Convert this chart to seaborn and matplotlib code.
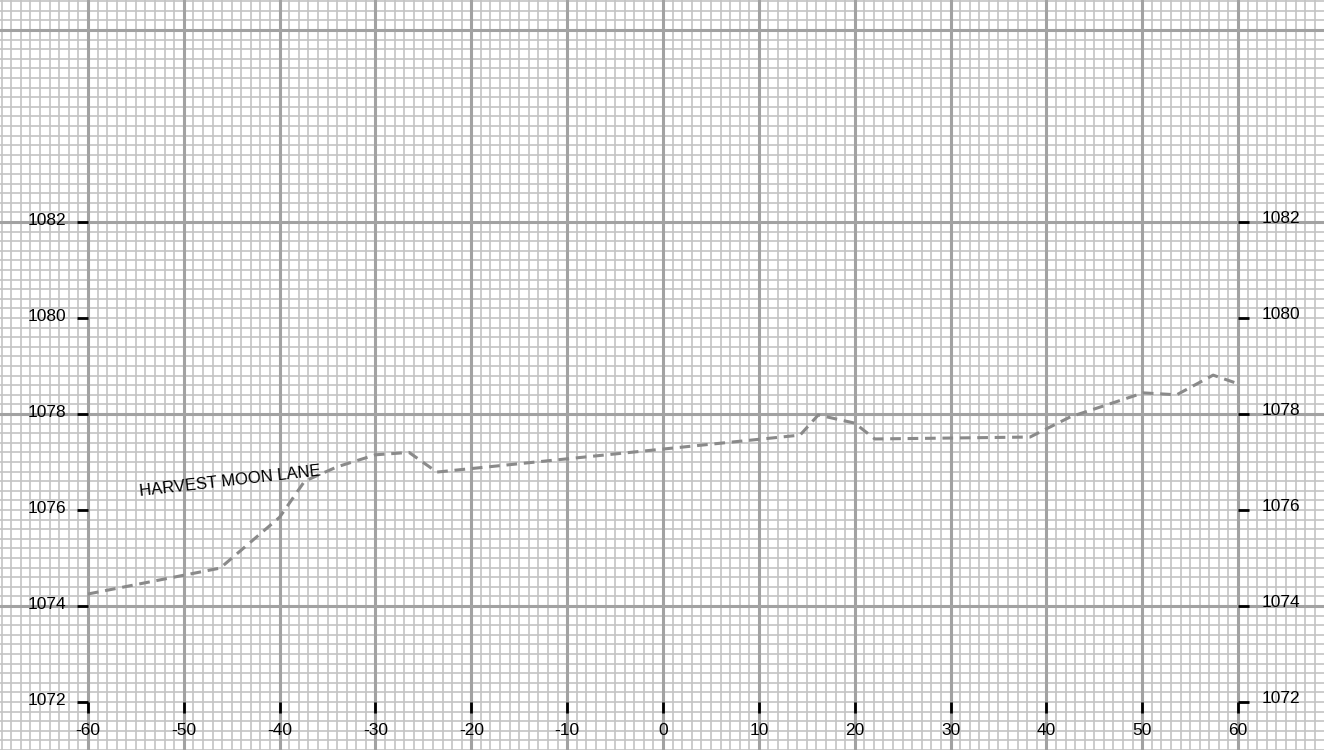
import numpy as np
import pandas as pd
import matplotlib.pyplot as plt
import matplotlib.transforms as mtransforms
import seaborn as sns

# profile of the existing ground along Harvest Moon Lane (offset vs elevation)
offset = [-60, -46.2, -40, -37.4, -34, -30, -26.5, -23.6, 14.3, 16.2, 20,
          22.1, 38.3, 42.5, 50.1, 53.6, 57.4, 60]
elevation = [1074.25, 1074.79, 1075.85, 1076.6, 1076.9, 1077.15, 1077.2,
             1076.79, 1077.56, 1077.98, 1077.81, 1077.48, 1077.52, 1077.94,
             1078.44, 1078.40, 1078.81, 1078.63]

x_ticks = [-60, -50, -40, -30, -20, -10, 0, 10, 20, 30, 40, 50, 60]
y_ticks = [1072, 1074, 1076, 1078, 1080, 1082]
road_name = "HARVEST MOON LANE"

sns.set_theme(style="white")
plt.rcParams["font.family"] = ["Liberation Sans", "DejaVu Sans"]

fig = plt.figure(figsize=(13.24, 7.5), dpi=100)
ax = fig.add_axes([0, 0, 1, 1])
ax.set_xlim(-69.18, 68.97)
ax.set_ylim(1071.0, 1086.625)
ax.set_axis_off()

# grid paper: light minor lines, darker major lines
minor_col, major_col = "#c4c4c4", "#a2a2a2"
for xv in np.arange(-69, 69):
    major = xv % 10 == 0
    ax.axvline(xv, color=major_col if major else minor_col,
               lw=2.2 if major else 1.2, zorder=2 if major else 1)
for i, yv in enumerate(np.arange(1071.0, 1086.7, 0.2)):
    major = abs((yv - 1074) % 4) < 1e-6 or abs((yv - 1074) % 4 - 4) < 1e-6
    ax.axhline(yv, color=major_col if major else minor_col,
               lw=2.2 if major else 1.2, zorder=2 if major else 1)

df = pd.DataFrame({"offset": offset, "elevation": elevation})
sns.lineplot(data=df, x="offset", y="elevation", sort=False, ax=ax,
             color="#8a8a8a", lw=2.2, linestyle=(0, (3.5, 2.2)), zorder=5)

# tick marks and labels, drawn in the sheet itself
px = mtransforms.offset_copy
xmin, xmax = x_ticks[0], x_ticks[-1]
ybase = y_ticks[0]
tick_len = 11 / 9.583  # ~11 px in x units
for yv in y_ticks:
    ax.plot([xmin - tick_len, xmin], [yv, yv], color="black", lw=2, zorder=6,
            solid_capstyle="butt")
    ax.plot([xmax, xmax + tick_len], [yv, yv], color="black", lw=2, zorder=6,
            solid_capstyle="butt")
    ax.text(xmin - 2.3, yv, str(yv), ha="right", va="baseline", fontsize=12.5,
            color="black", transform=px(ax.transData, fig, 0, -3, units="dots"))
    ax.text(xmax + 2.5, yv, str(yv), ha="left", va="baseline", fontsize=12.5,
            color="black", transform=px(ax.transData, fig, 0, -1, units="dots"))
for xv in x_ticks:
    ax.plot([xv, xv], [ybase, ybase - 11 / 48], color="black", lw=2, zorder=6,
            solid_capstyle="butt")
    ax.text(xv, ybase, str(xv), ha="center", va="baseline", fontsize=12.5,
            color="black", transform=px(ax.transData, fig, 0, -33, units="dots"))

ax.text(-54.6, 1076.3, road_name, rotation=6.5, rotation_mode="anchor",
        ha="left", va="baseline", fontsize=12, color="black", zorder=7)

fig.savefig("out.png", dpi=100)
